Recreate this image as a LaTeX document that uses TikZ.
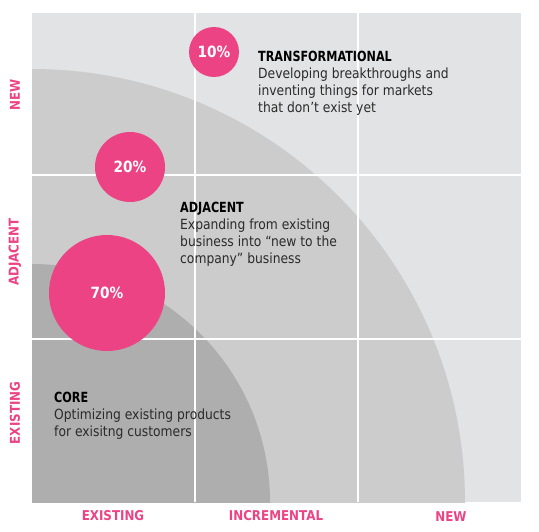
\documentclass[tikz,border=0pt]{standalone}
\usepackage{fontspec}
\setmainfont{DejaVu Sans}[FakeStretch=0.88]
\newfontfamily\titlefont{DejaVu Sans}[FakeStretch=0.80]
\usetikzlibrary{calc}
\definecolor{pinkc}{HTML}{EC4384}
\definecolor{outerc}{HTML}{E2E3E5}
\definecolor{midc}{HTML}{CCCCCC}
\definecolor{innerc}{HTML}{ADAEAD}
\definecolor{bodyc}{HTML}{2B2B2B}
\tikzset{
  share/.style={circle,fill=pinkc,text=white,inner sep=0pt,font=\bfseries\fontsize{15.5}{15.5}\selectfont},
  blurb/.style={anchor=north west,inner sep=0pt,align=left,text=bodyc,font=\fontsize{14}{17}\selectfont},
  axislabel/.style={text=pinkc,inner sep=0pt,font=\bfseries\fontsize{13.5}{13.5}\selectfont}
}
\newcommand{\sharenode}[5]{\node[share,minimum size=#4pt] (#1) at (#2,#3) {#5\%};}
\newcommand{\blurbtitle}[1]{\textcolor{black}{\titlefont\bfseries #1}}

\begin{document}
\begin{tikzpicture}[x=1pt,y=-1pt]
        \useasboundingbox (0,0) rectangle (539,532);
        %panel
        \begin{scope}
          \clip (32,13) rectangle (521,502);
          \fill[outerc] (32,13) rectangle (521,502);
          \fill[midc] (32,502) circle (433);
          \fill[innerc] (32,502) circle (238);
        \end{scope}
        
        %grid
        \foreach \gx in {195,358}
          \draw[white,line width=1.5pt] (\gx,13) -- (\gx,502);
        \foreach \gy in {175,339}
          \draw[white,line width=1.5pt] (32,\gy) -- (521,\gy);
        
        %circles
        \sharenode{ten}{214}{52}{50}{10}
        \sharenode{twenty}{130}{167}{70}{20}
        \sharenode{seventy}{107}{293}{116}{70}
        
        %texts
        \node[blurb] (transf) at (258,51) {\blurbtitle{TRANSFORMATIONAL}\\Developing breakthroughs and\\inventing things for markets\\that don’t exist yet};
        \node[blurb] (adj) at (180,202) {\blurbtitle{ADJACENT}\\Expanding from existing\\business into “new to the\\company” business};
        \node[blurb] (core) at (54,392) {\blurbtitle{CORE}\\Optimizing existing products\\for exisitng customers};
        
        %axes
        \node[axislabel] (xexist) at (113,516) {EXISTING};
        \node[axislabel] (xincr) at (276,516) {INCREMENTAL};
        \node[axislabel] (xnew) at (451,517) {NEW};
        \node[axislabel,rotate=90] (ynew) at (15,95) {NEW};
        \node[axislabel,rotate=90] (yadj) at (15,252) {ADJACENT};
        \node[axislabel,rotate=90] (yexist) at (15,413) {EXISTING};
        
\end{tikzpicture}
\end{document}
